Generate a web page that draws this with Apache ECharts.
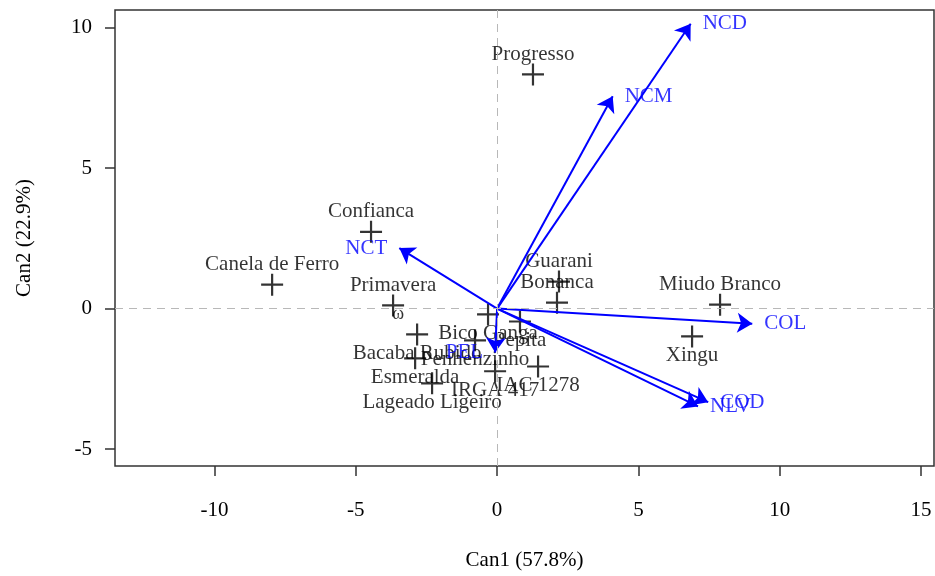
<!DOCTYPE html>
<html>
<head>
<meta charset="utf-8">
<script src="https://cdn.jsdelivr.net/npm/echarts@6/dist/echarts.min.js"></script>
<style>
html,body{margin:0;padding:0;background:#fff;}
#chart{width:935px;height:576px;}
</style>
</head>
<body>
<div id="chart"></div>
<script>
// Genotype scores (canonical scores)
const genotypes = ['Progresso','Confianca','Canela de Ferro','Primavera','Guarani','Bonanca','Miudo Branco','Xingu','Bacaba Rubido','Esmeralda','Lageado Ligeiro','Penhenzinho','Bico Ganga','Pepita','IRGA 417','IAC 1278'];
const can1 = [1.27,-4.46,-7.96,-3.68,2.19,2.12,7.89,6.90,-2.83,-2.90,-2.30,-0.78,-0.32,0.81,-0.07,1.45];
const can2 = [8.33,2.73,0.85,0.11,0.96,0.21,0.14,-0.99,-0.92,-1.77,-2.66,-1.13,-0.21,-0.46,-2.23,-2.06];

// Variable structure vectors
const variables = ['NCD','NCM','NCT','COL','COD','NLV','PEL'];
const vecX = [6.85,4.09,-3.46,9.03,7.47,7.11,-0.07];
const vecY = [10.13,7.55,2.15,-0.54,-3.33,-3.48,-1.56];

// Extra small glyph near Primavera
const glyphText = ['ω'];
const glyphX = [-3.50];
const glyphY = [-0.20];

// Axis ticks
const xTicks = [-10,-5,0,5,10,15];
const yTicks = [-5,0,5,10];
const xRange = [-13.52, 15.46];
const yRange = [-5.60, 10.62];

const FONT = 'Liberation Serif';
const FS = 21;

const pointData = genotypes.map((n,i)=>({
  name:n, value:[can1[i],can2[i]],
  label:{offset:[0, can2[i] > 0 ? -20 : 19]}
}));

const arrowData = variables.map((n,i)=>({coords:[[0,0],[vecX[i],vecY[i]]]}));
const arrowLabelData = variables.map((n,i)=>({
  name:n, value:[vecX[i],vecY[i]],
  label:{position: vecX[i] > 0 ? 'right' : 'left'}
}));
const glyphData = glyphText.map((t,i)=>({name:t, value:[glyphX[i],glyphY[i]]}));

const chart = echarts.init(document.getElementById('chart'), null, {renderer:'canvas'});
chart.setOption({
  animation:false,
  backgroundColor:'#fff',
  grid:{left:115, right:1, top:10, bottom:108, show:true, borderColor:'#333', borderWidth:1.5, backgroundColor:'transparent'},
  xAxis:{
    type:'value', min:xRange[0], max:xRange[1],
    name:'Can1 (57.8%)', nameLocation:'middle', nameGap:84,
    nameTextStyle:{fontFamily:FONT, fontSize:FS, color:'#000'},
    axisLine:{show:false, onZero:false},
    splitLine:{show:false},
    axisTick:{show:true, length:10, customValues:xTicks, lineStyle:{color:'#333', width:1.5}},
    axisLabel:{customValues:xTicks, margin:34, fontFamily:FONT, fontSize:FS, color:'#000'}
  },
  yAxis:{
    type:'value', min:yRange[0], max:yRange[1],
    name:'Can2 (22.9%)', nameLocation:'middle', nameGap:80,
    nameTextStyle:{fontFamily:FONT, fontSize:FS, color:'#000'},
    axisLine:{show:false, onZero:false},
    splitLine:{show:false},
    axisTick:{show:true, length:10, customValues:yTicks, lineStyle:{color:'#333', width:1.5}},
    axisLabel:{customValues:yTicks, margin:23, fontFamily:FONT, fontSize:FS, color:'#000'}
  },
  series:[
    {
      type:'scatter', name:'genotypes', z:3,
      symbol:'path://M0,-10 L0,10 M-10,0 L10,0',
      symbolSize:22,
      itemStyle:{color:'transparent', borderColor:'#000', borderWidth:2.2},
      label:{show:true, position:'inside', formatter:'{b}', fontFamily:FONT, fontSize:FS, color:'#000'},
      data:pointData,
      markLine:{
        silent:true, symbol:['none','none'], label:{show:false},
        lineStyle:{color:'#b8b8b8', type:[8,6], width:1},
        data:[{xAxis:0},{yAxis:0}]
      }
    },
    {
      type:'lines', coordinateSystem:'cartesian2d', z:4,
      symbol:['none','arrow'], symbolSize:[9,15],
      lineStyle:{color:'#0000ff', width:2, opacity:1},
      data:arrowData
    },
    {
      type:'scatter', name:'vectorLabels', z:5,
      symbol:'circle', symbolSize:0,
      label:{show:true, formatter:'{b}', distance:12, fontFamily:FONT, fontSize:FS, color:'#0000ff'},
      data:arrowLabelData
    },
    {
      type:'scatter', name:'glyph', z:5,
      symbol:'circle', symbolSize:0,
      label:{show:true, position:'inside', formatter:'{b}', fontFamily:FONT, fontSize:18, color:'#000'},
      data:glyphData
    }
  ]
});
</script>
</body>
</html>
